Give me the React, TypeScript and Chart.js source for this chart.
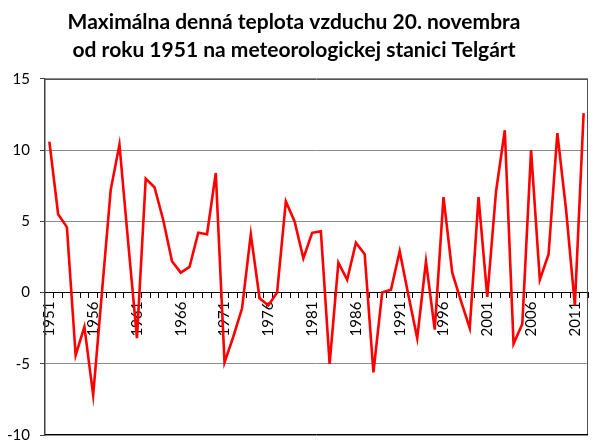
import React, { useEffect, useRef } from "react";
import { Chart, registerables } from "chart.js";

Chart.register(...registerables);

const years: string[] = [
  "1951","1952","1953","1954","1955","1956","1957","1958","1959","1960",
  "1961","1962","1963","1964","1965","1966","1967","1968","1969","1970",
  "1971","1972","1973","1974","1975","1976","1977","1978","1979","1980",
  "1981","1982","1983","1984","1985","1986","1987","1988","1989","1990",
  "1991","1992","1993","1994","1995","1996","1997","1998","1999","2000",
  "2001","2002","2003","2004","2005","2006","2007","2008","2009","2010",
  "2011","2012",
];

const maxTemp: number[] = [
  10.6, 5.5, 4.6, -4.4, -2.4, -7.2, 0.0, 7.2, 10.4, 3.5,
  -3.2, 8.0, 7.4, 5.1, 2.2, 1.4, 1.8, 4.2, 4.1, 8.4,
  -4.9, -3.1, -1.1, 4.1, -0.4, -0.9, 0.0, 6.4, 5.0, 2.4,
  4.2, 4.3, -5.0, 2.1, 0.9, 3.5, 2.7, -5.6, 0.0, 0.2,
  2.9, -0.2, -3.2, 2.2, -2.6, 6.7, 1.4, -0.6, -2.5, 6.7,
  -0.3, 7.1, 11.4, -3.6, -2.2, 10.0, 0.9, 2.7, 11.2, 5.8,
  -0.9, 12.6,
];

const titleLines: string[] = [
  "Maximálna denná teplota vzduchu 20. novembra",
  "od roku 1951 na meteorologickej stanici Telgárt",
];

const yMin = -10;
const yMax = 15;
const yStep = 5;
const labelEvery = 5;

const boxPlugin = {
  id: "plotBox",
  afterDraw(chart: any) {
    const { ctx, chartArea } = chart;
    ctx.save();
    ctx.lineWidth = 1;
    ctx.strokeStyle = "#505050";
    ctx.beginPath();
    ctx.moveTo(chartArea.left, chartArea.top + 0.5);
    ctx.lineTo(chartArea.right, chartArea.top + 0.5);
    ctx.moveTo(chartArea.right - 0.5, chartArea.top);
    ctx.lineTo(chartArea.right - 0.5, chartArea.bottom);
    ctx.stroke();
    ctx.strokeStyle = "#000000";
    ctx.beginPath();
    ctx.moveTo(chartArea.left, chartArea.bottom - 0.5);
    ctx.lineTo(chartArea.right, chartArea.bottom - 0.5);
    ctx.stroke();
    ctx.restore();
  },
};

const zeroPadding = (scale: any) => {
  scale.paddingTop = 0;
  scale.paddingBottom = 0;
  scale.paddingLeft = 0;
  scale.paddingRight = 0;
};

export default function App() {
  const canvasRef = useRef<HTMLCanvasElement | null>(null);

  useEffect(() => {
    if (!canvasRef.current) return;
    const chart = new Chart(canvasRef.current, {
      type: "line",
      data: {
        labels: years,
        datasets: [
          {
            data: maxTemp,
            borderColor: "#FF0000",
            borderWidth: 2.6,
            pointRadius: 0,
            tension: 0,
            fill: false,
          },
        ],
      },
      options: {
        animation: false,
        responsive: true,
        maintainAspectRatio: false,
        layout: { padding: { left: 0, right: 7, top: 0, bottom: 10 } },
        plugins: {
          legend: { display: false },
          tooltip: { enabled: false },
          title: {
            display: true,
            text: titleLines,
            color: "#000000",
            font: { family: "Lato", size: 21, weight: "bold", lineHeight: 1.333 },
            padding: { top: 8, bottom: 15 },
          },
        },
        scales: {
          x: {
            type: "category",
            offset: true,
            position: { y: 0 } as any,
            afterFit: zeroPadding,
            grid: {
              offset: true,
              drawOnChartArea: false,
              drawTicks: true,
              tickLength: 5,
              color: "#000000",
            },
            border: { display: true, color: "#000000", width: 1 },
            ticks: {
              autoSkip: false,
              minRotation: 90,
              maxRotation: 90,
              padding: 4,
              color: "#000000",
              font: { family: "Lato", size: 15 },
              callback: (_v: any, i: number) => (i % labelEvery === 0 ? years[i] : ""),
            },
          },
          y: {
            min: yMin,
            max: yMax,
            afterFit: (scale: any) => {
              scale.width = 45;
              zeroPadding(scale);
            },
            grid: {
              color: "#8c8c8c",
              drawTicks: true,
              tickLength: 5,
              tickColor: "#404040",
            },
            border: { display: true, color: "#404040", width: 1.5 },
            ticks: {
              stepSize: yStep,
              padding: 10,
              color: "#000000",
              font: { family: "Lato", size: 15 },
            },
          },
        },
      },
      plugins: [boxPlugin],
    });
    return () => chart.destroy();
  }, []);

  return (
    <div style={{ position: "fixed", left: 0, top: 0, width: 595, height: 445, background: "#fff" }}>
      <canvas ref={canvasRef} />
    </div>
  );
}
